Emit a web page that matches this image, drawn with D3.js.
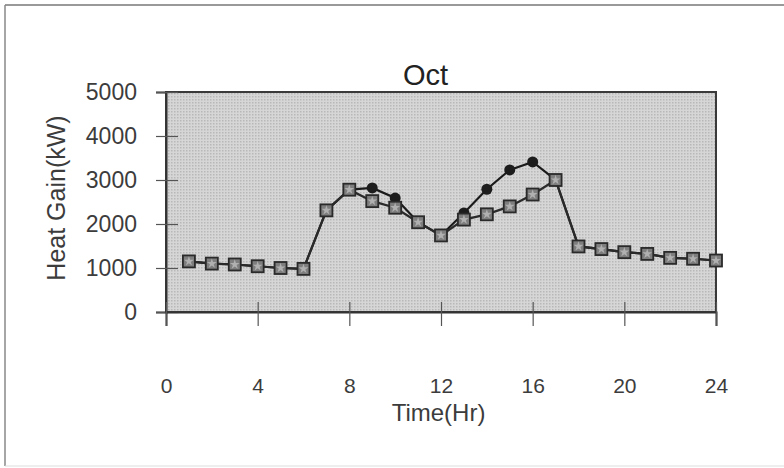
<!DOCTYPE html>
<html>
<head>
<meta charset="utf-8">
<script src="https://cdn.jsdelivr.net/npm/d3@7"></script>
<style>
  body { margin: 0; background: #fff; }
  svg { display: block; }
</style>
</head>
<body>
<svg id="chart" width="784" height="468"></svg>
<script>
// Hourly heat gain for October (kW)
const hours = d3.range(1, 25);
const seriesSquare = [1150, 1100, 1080, 1040, 1000, 980, 2310, 2780, 2520, 2370, 2040, 1740,
                      2100, 2220, 2400, 2670, 3000, 1490, 1430, 1360, 1320, 1230, 1210, 1170];
const seriesCircle = [1150, 1100, 1080, 1040, 1000, 980, 2310, 2780, 2820, 2590, 2040, 1740,
                      2250, 2790, 3230, 3410, 3000, 1490, 1430, 1360, 1320, 1230, 1210, 1170];
const xTicks = [0, 4, 8, 12, 16, 20, 24];
const yTicks = [0, 1000, 2000, 3000, 4000, 5000];
const titleText = "Oct";
const xLabel = "Time(Hr)";
const yLabel = "Heat Gain(kW)";

const svg = d3.select("#chart");
const font = "'Liberation Sans', Arial, sans-serif";
const textColor = "#3c3c3c";

// Outer frame
svg.append("line").attr("x1", 5).attr("x2", 784).attr("y1", 5).attr("y2", 5)
  .attr("stroke", "#777").attr("stroke-width", 1.5);
svg.append("line").attr("x1", 5).attr("x2", 5).attr("y1", 5).attr("y2", 466)
  .attr("stroke", "#888").attr("stroke-width", 1.5);
svg.append("line").attr("x1", 5).attr("x2", 784).attr("y1", 466).attr("y2", 466)
  .attr("stroke", "#ddd").attr("stroke-width", 1);

const plot = { left: 166, right: 716, top: 92, bottom: 312 };
const x = d3.scaleLinear().domain([0, 24]).range([plot.left, plot.right]);
const y = d3.scaleLinear().domain([0, 5000]).range([plot.bottom, plot.top]);

// Dotted plot-area fill
const defs = svg.append("defs");
const pat = defs.append("pattern").attr("id", "dots")
  .attr("width", 3).attr("height", 3).attr("patternUnits", "userSpaceOnUse");
pat.append("rect").attr("width", 3).attr("height", 3).attr("fill", "#d6d6d6");
pat.append("rect").attr("width", 1.5).attr("height", 1.5).attr("fill", "#b8b8b8");

svg.append("rect")
  .attr("x", plot.left).attr("y", plot.top)
  .attr("width", plot.right - plot.left).attr("height", plot.bottom - plot.top)
  .attr("fill", "url(#dots)")
  .attr("stroke", "#3a3a3a").attr("stroke-width", 2);

// Y axis: ticks cross the axis line
const yAxis = d3.axisLeft(y).tickValues(yTicks).tickSize(10).tickPadding(19)
  .tickFormat(d3.format("d"));
const gy = svg.append("g").attr("transform", `translate(${plot.left},0)`).call(yAxis);
gy.select(".domain").attr("stroke", "#333").attr("stroke-width", 2);
gy.selectAll(".tick line").attr("x2", 12).attr("x1", -10)
  .attr("stroke", "#555").attr("stroke-width", 1.2);
gy.selectAll(".tick text").attr("font-family", font).attr("font-size", 23)
  .attr("fill", textColor);

// X axis: ticks cross the baseline, labels sit well below
const xAxis = d3.axisBottom(x).tickValues(xTicks).tickSize(14);
const gx = svg.append("g").attr("transform", `translate(0,${plot.bottom})`).call(xAxis);
gx.select(".domain").attr("stroke", "#333").attr("stroke-width", 2);
gx.selectAll(".tick line").attr("y1", -10).attr("stroke", "#555").attr("stroke-width", 1.2);
gx.selectAll(".tick text").attr("font-family", font).attr("font-size", 21)
  .attr("fill", textColor).attr("y", 81).attr("dy", 0);

// Titles
svg.append("text").attr("x", 425.5).attr("y", 85).attr("text-anchor", "middle")
  .attr("font-family", font).attr("font-size", 29).attr("fill", "#222").text(titleText);
svg.append("text").attr("x", 438.5).attr("y", 421).attr("text-anchor", "middle")
  .attr("font-family", font).attr("font-size", 24).attr("fill", textColor).text(xLabel);
svg.append("text").attr("transform", `translate(65,198) rotate(-90)`)
  .attr("text-anchor", "middle")
  .attr("font-family", font).attr("font-size", 25).attr("fill", textColor).text(yLabel);

const line = d3.line().x((d, i) => x(hours[i])).y(d => y(d));

// Circle series (drawn first, underneath)
svg.append("path").datum(seriesCircle).attr("d", line)
  .attr("fill", "none").attr("stroke", "#1a1a1a").attr("stroke-width", 2.2);
svg.selectAll("circle.pt").data(seriesCircle).join("circle")
  .attr("class", "pt")
  .attr("cx", (d, i) => x(hours[i])).attr("cy", d => y(d))
  .attr("r", 5.5).attr("fill", "#1c1c1c");

// Square series
svg.append("path").datum(seriesSquare).attr("d", line)
  .attr("fill", "none").attr("stroke", "#2a2a2a").attr("stroke-width", 2.2);
const sq = svg.selectAll("g.sq").data(seriesSquare).join("g")
  .attr("class", "sq")
  .attr("transform", (d, i) => `translate(${x(hours[i])},${y(d)})`);
sq.append("rect").attr("x", -6).attr("y", -6).attr("width", 12).attr("height", 12)
  .attr("fill", "#7e7e7e").attr("stroke", "#2a2a2a").attr("stroke-width", 1.8);
sq.append("path").attr("d", d3.symbol(d3.symbolStar, 30)())
  .attr("fill", "#b0b0b0");
</script>
</body>
</html>
